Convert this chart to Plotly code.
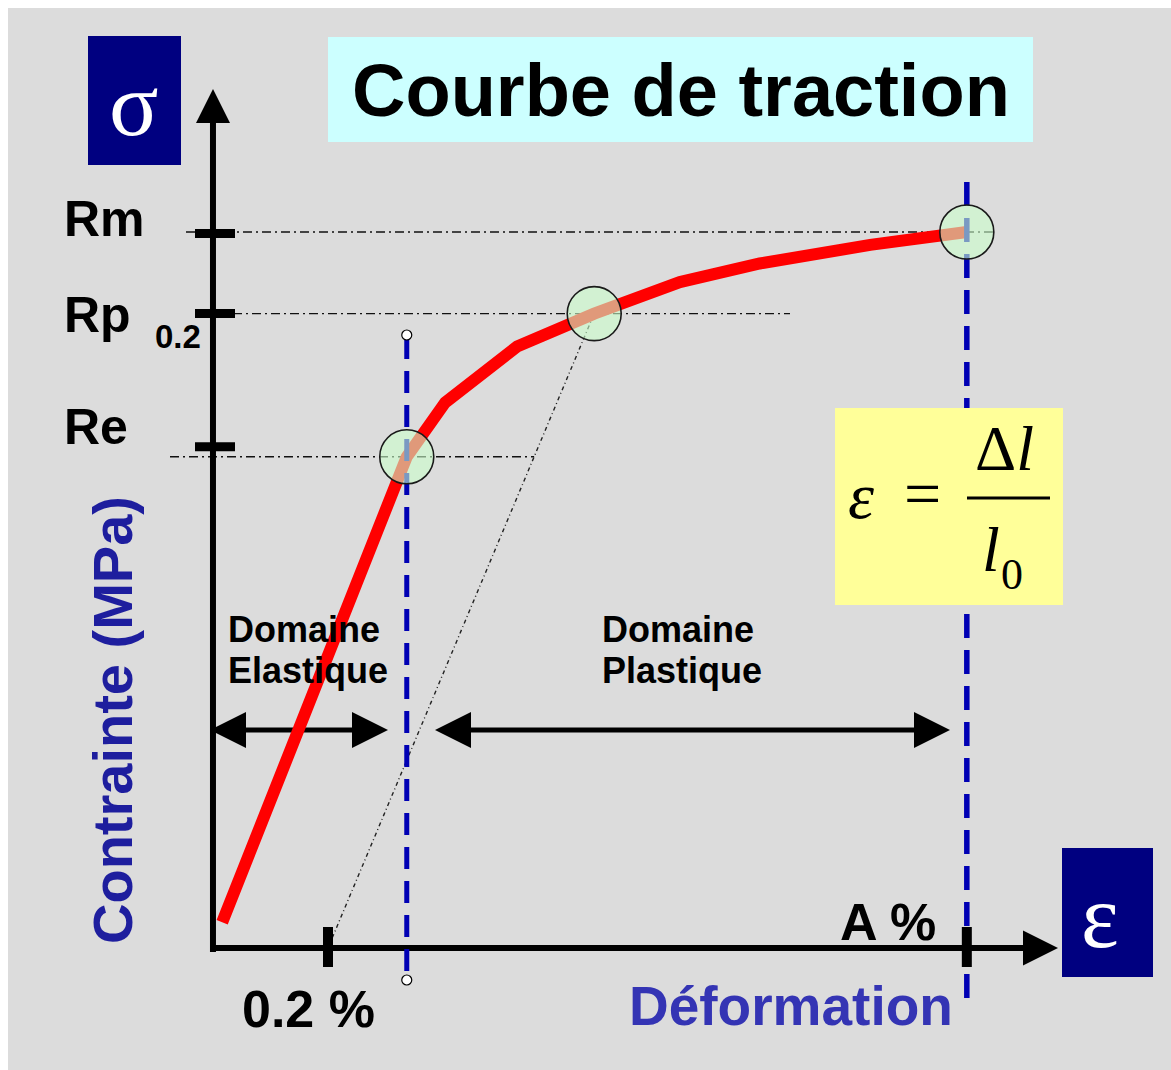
import plotly.graph_objects as go

W, H = 1171, 1070

# ---------------- data (strain in %, stress in MPa) ----------------
curve_strain = [0.016, 0.337, 0.404, 0.529, 0.663, 0.812, 0.951, 1.143, 1.311]
curve_stress = [18, 343, 381, 420, 443, 465, 478, 491, 500]

key_names = ["Re", "Rp0.2", "Rm"]
key_strain = [0.337, 0.663, 1.311]
key_stress = [343, 443, 500]

offset_strain = 0.2      # 0.2 % offset
A_strain = 1.311         # A %

stress_tick_values = [350, 443, 499]      # Re, Rp0.2, Rm
stress_tick_labels = ["Re", "Rp", "Rm"]
strain_tick_values = [0.2, 1.311]
strain_tick_labels = ["0.2 %", "A %"]

# ---------------- coordinate system ----------------
X_RANGE = [-0.3704, 1.6661]
Y_RANGE = [-85.2, 662.0]
SX = (X_RANGE[1] - X_RANGE[0]) / W   # data per pixel
SY = (Y_RANGE[1] - Y_RANGE[0]) / H


def X(px):
    return X_RANGE[0] + px * SX


def Y(py):
    return Y_RANGE[1] - py * SY


def P(px):
    return px / W


def Q(py):
    return 1 - py / H


SANS = "Liberation Sans, Arial, sans-serif"
SERIF = "Liberation Serif, Times New Roman, serif"
BLUE_DASH = "#0000B4"
NAVY = "#000080"

fig = go.Figure()


def seg(x, y, color, width, dash="solid"):
    fig.add_trace(go.Scatter(x=x, y=y, mode="lines", hoverinfo="skip",
                             line=dict(color=color, width=width, dash=dash)))


# dash-dot reference levels
Re, Rp, Rm = key_stress
eps_Rp = key_strain[1]
re_end = offset_strain + Re / Rp * (eps_Rp - offset_strain)
seg([X(170), re_end], [Re, Re], "#111111", 1.4, "9px,4px,2px,4px")
seg([X(195), X(790)], [Rp, Rp], "#111111", 1.4, "9px,4px,2px,4px")
seg([X(186), X(995)], [Rm, Rm], "#111111", 1.4, "9px,4px,2px,4px")

# offset line (0.2 %)
seg([offset_strain, eps_Rp], [0, Rp], "#222222", 1.4, "4px,3px,1px,3px")

# axes lines
seg([0, 0], [Y(952), Y(118)], "black", 6)
seg([X(211), X(1028)], [0, 0], "black", 6)
fig.add_trace(go.Scatter(x=[0], y=[Y(89)], mode="markers", hoverinfo="skip",
                         marker=dict(symbol="arrow-up", size=34, color="black")))
fig.add_trace(go.Scatter(x=[X(1058)], y=[0], mode="markers", hoverinfo="skip",
                         marker=dict(symbol="arrow-right", size=35, color="black")))

# domain double arrows
arrow_y = Y(730)
for xa, xb in [(X(210), X(388)), (X(435), X(950))]:
    seg([xa + 20 * SX, xb - 20 * SX], [arrow_y, arrow_y], "black", 5)
    fig.add_trace(go.Scatter(x=[xa, xb], y=[arrow_y, arrow_y], mode="markers",
                             hoverinfo="skip",
                             marker=dict(symbol=["arrow-left", "arrow-right"],
                                         size=36, color="black")))

# red traction curve
fig.add_trace(go.Scatter(x=curve_strain, y=curve_stress, mode="lines",
                         hoverinfo="skip",
                         line=dict(color="#FF0000", width=12)))

# blue dashed verticals
seg([key_strain[0], key_strain[0]], [Y(337), Y(978)], BLUE_DASH, 5, "22px,12px")
seg([A_strain, A_strain], [Y(182), Y(1000)], BLUE_DASH, 5.5, "24px,12px")
fig.add_trace(go.Scatter(x=[key_strain[0], key_strain[0]], y=[Y(335), Y(980)],
                         mode="markers", hoverinfo="skip",
                         marker=dict(symbol="circle", size=10, color="white",
                                     line=dict(color="black", width=1.2))))

# ticks
for v in stress_tick_values:
    seg([X(195), X(235)], [v, v], "black", 9)
for v in strain_tick_values:
    seg([v, v], [Y(927), Y(967)], "black", 10)

# highlight circles
fig.add_trace(go.Scatter(x=key_strain, y=key_stress, mode="markers",
                         hoverinfo="skip",
                         marker=dict(symbol="circle", size=54,
                                     color="rgba(204,255,204,0.6)",
                                     line=dict(color="#1a1a1a", width=1.6))))

# ---------------- boxes ----------------
shapes = [
    dict(type="rect", xref="paper", yref="paper", x0=P(8), x1=P(1171),
         y0=Q(1070), y1=Q(8), fillcolor="#DCDCDC", line=dict(width=0), layer="below"),
    dict(type="rect", xref="paper", yref="paper", x0=P(328), x1=P(1033),
         y0=Q(142), y1=Q(37), fillcolor="#CCFFFF", line=dict(width=0), layer="above"),
    dict(type="rect", xref="paper", yref="paper", x0=P(88), x1=P(181),
         y0=Q(165), y1=Q(36), fillcolor=NAVY, line=dict(width=0), layer="above"),
    dict(type="rect", xref="paper", yref="paper", x0=P(1062), x1=P(1153),
         y0=Q(977), y1=Q(848), fillcolor=NAVY, line=dict(width=0), layer="above"),
    dict(type="rect", xref="paper", yref="paper", x0=P(835), x1=P(1063),
         y0=Q(605), y1=Q(408), fillcolor="#FFFF99", line=dict(width=0), layer="above"),
    dict(type="line", xref="paper", yref="paper", x0=P(967), x1=P(1050),
         y0=Q(498), y1=Q(498), line=dict(color="black", width=3), layer="above"),
]

ann = []


def txt(text, px, py, size, color="black", family=SANS, weight="bold",
        style="normal", xanchor="left", textangle=0):
    ann.append(dict(text=text, x=P(px), y=Q(py), xref="paper", yref="paper",
                    showarrow=False, xanchor=xanchor, yanchor="middle",
                    textangle=textangle,
                    font=dict(size=size, color=color, family=family,
                              weight=weight, style=style)))


txt("Courbe de traction", 681, 90, 74, xanchor="center")
txt("\u03c3", 134, 104, 92, color="white", family=SERIF, weight="normal",
    xanchor="center")
txt("\u03b5", 1100, 916, 90, color="white", family=SERIF, weight="normal",
    xanchor="center")

# stress tick labels
txt(stress_tick_labels[2], 62, 219, 50)
txt(stress_tick_labels[1], 62, 315, 50)
txt("0.2", 153, 336, 33)
txt(stress_tick_labels[0], 62, 427, 50)

# strain tick labels
txt(strain_tick_labels[0], 240, 1009, 52)
txt(strain_tick_labels[1], 838, 922, 52)

# axis titles
txt("Contrainte (MPa)", 112, 720, 56, color="#1E1E9E", xanchor="center",
    textangle=-90)
txt("D\u00e9formation", 627, 1006, 55, color="#3434B4")

# domains
txt("Domaine", 226, 629, 36)
txt("Elastique", 226, 670, 36)
txt("Domaine", 600, 629, 36)
txt("Plastique", 600, 670, 36)

# formula
txt("\u03b5", 861, 495, 66, family=SERIF, weight="normal", style="italic",
    xanchor="center")
txt("=", 922, 493, 66, family=SERIF, weight="normal", xanchor="center")
txt("\u0394<i>l</i>", 1004, 449, 64, family=SERIF, weight="normal",
    xanchor="center")
txt("<i>l</i>", 991, 550, 64, family=SERIF, weight="normal", xanchor="center")
txt("0", 1012, 574, 44, family=SERIF, weight="normal", xanchor="center")

fig.update_layout(
    width=W, height=H,
    margin=dict(l=0, r=0, t=0, b=0),
    paper_bgcolor="white", plot_bgcolor="rgba(0,0,0,0)",
    showlegend=False,
    xaxis=dict(range=X_RANGE, visible=False, fixedrange=True),
    yaxis=dict(range=Y_RANGE, visible=False, fixedrange=True),
    shapes=shapes, annotations=ann,
)

fig.write_html("out.html", config={"displayModeBar": False},
               post_script="document.body.style.margin='0';"
                           "document.body.style.overflow='hidden';")
